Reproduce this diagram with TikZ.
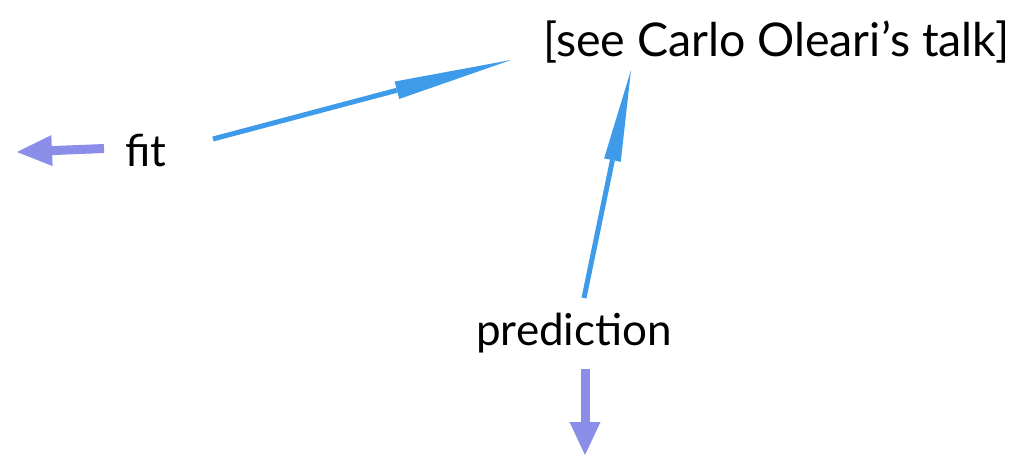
\documentclass[tikz,border=0pt]{standalone}
\usepackage{fontspec}
\setmainfont{Lato}
\usetikzlibrary{arrows.meta}
\definecolor{blu}{HTML}{3D9BE9}
\definecolor{pur}{HTML}{8A8EE8}
\tikzset{
  lbl/.style={font=\fontsize{44}{50}\selectfont, inner sep=0pt, anchor=base west, text=black},
  bluarrow/.style={draw=blu, line width=5pt},
  purarrow/.style={draw=pur, line width=9pt},
}
\begin{document}
\begin{tikzpicture}[x=1pt,y=-1pt]
\useasboundingbox (0,0) rectangle (1024,456);
\node[lbl, font=\fontsize{46.5}{52}\selectfont] (talk) at (543,56) {[see Carlo Oleari’s talk]};
\node[lbl] (fit) at (125,166) {fit};
\node[lbl] (pred) at (476,345) {prediction};
\coordinate (fitA) at (213,139);
\coordinate (talkA) at (511,60);
\coordinate (predA) at (584,298);
\coordinate (talkB) at (631,70);
\coordinate (fitL1) at (104,148.5);
\coordinate (fitL2) at (17,152);
\coordinate (predD1) at (585,369);
\coordinate (predD2) at (585,455);
\draw[bluarrow, -{Triangle[length=118pt,width=18pt,line width=0pt 0]}] (fitA) -- (talkA);
\draw[bluarrow, -{Triangle[length=92pt,width=17pt,line width=0pt 0]}] (predA) -- (talkB);
\draw[purarrow, -{Triangle[length=35pt,width=31pt,line width=0pt 0]}] (fitL1) -- (fitL2);
\draw[purarrow, -{Triangle[length=33pt,width=31pt,line width=0pt 0]}] (predD1) -- (predD2);
\end{tikzpicture}
\end{document}
